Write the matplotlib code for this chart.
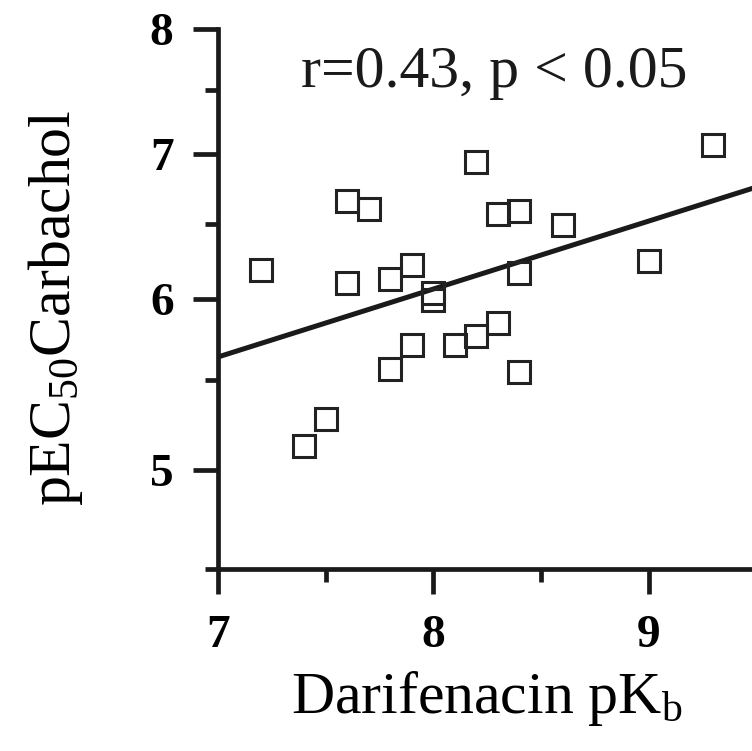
import numpy as np
import matplotlib
matplotlib.use("Agg")
import matplotlib.pyplot as plt
from matplotlib.ticker import FixedLocator, NullFormatter

# Darifenacin pKb vs pEC50 carbachol
pkb = [7.2, 7.6, 7.7, 7.6, 7.8, 7.9, 8.0, 8.0, 8.2, 8.3, 8.4, 8.6, 8.4, 9.0, 9.3,
       7.9, 7.8, 8.1, 8.2, 8.3, 8.4, 7.5, 7.4]
pec50 = [6.19, 6.66, 6.60, 6.10, 6.13, 6.22, 6.04, 5.99, 6.94, 6.57, 6.59, 6.49, 6.17, 6.25, 7.07,
         5.71, 5.57, 5.71, 5.77, 5.85, 5.55, 5.28, 5.13]

# regression line, log10(y) = a + b*x
fit_a = 0.5311
fit_b = 0.03145

x_ticks = [7, 8, 9]
x_minor = [7.5, 8.5]
y_ticks = [5, 6, 7, 8]
y_minor = [4.5, 5.5, 6.5, 7.5]

plt.rcParams['font.family'] = 'Liberation Serif'
plt.rcParams['mathtext.fontset'] = 'custom'
plt.rcParams['mathtext.rm'] = 'Liberation Serif'
plt.rcParams['mathtext.it'] = 'Liberation Serif:italic'

ink = '#1a1a1a'

fig = plt.figure(figsize=(7.52, 7.51), dpi=100)
ax = fig.add_axes([0.2899, 0.2427, 1.0 - 0.2899, 0.9614 - 0.2427])

ax.set_yscale('log')
ax.set_xlim(7, 9.48)
ax.set_ylim(4.5, 8)

xs = np.linspace(7, 9.48, 50)
ax.plot(xs, 10 ** (fit_a + fit_b * xs), color=ink, lw=3.6, zorder=2)

ax.plot(pkb, pec50, linestyle='none', marker='s', markersize=16.5,
        markerfacecolor='none', markeredgecolor='#222222', markeredgewidth=2.2,
        zorder=3, clip_on=False)

for side in ['top', 'right']:
    ax.spines[side].set_visible(False)
for side in ['left', 'bottom']:
    ax.spines[side].set_linewidth(3.4)
    ax.spines[side].set_color(ink)

ax.xaxis.set_major_locator(FixedLocator(x_ticks))
ax.xaxis.set_minor_locator(FixedLocator(x_minor))
ax.yaxis.set_major_locator(FixedLocator(y_ticks))
ax.yaxis.set_minor_locator(FixedLocator(y_minor))
ax.yaxis.set_minor_formatter(NullFormatter())
ax.set_xticklabels([str(t) for t in x_ticks])
ax.set_yticklabels([str(t) for t in y_ticks])

ax.tick_params(which='major', direction='out', length=18, width=3.4, color=ink,
               labelsize=34)
ax.tick_params(axis='x', which='major', pad=15)
ax.tick_params(axis='y', which='major', pad=14)
ax.tick_params(which='minor', direction='out', length=9.5, width=3.4, color=ink)
for lab in ax.get_xticklabels() + ax.get_yticklabels():
    lab.set_fontweight('bold')

ax.set_xlabel('Darifenacin pK$_\\mathrm{b}$', fontsize=43)
ax.set_ylabel('pEC$_{50}$Carbachol', fontsize=43)
ax.xaxis.set_label_coords(0.504, -0.186)
ax.yaxis.set_label_coords(-0.249, 0.484)

ax.text(7.384, 7.52, 'r=0.43, p < 0.05', fontsize=43, color=ink, va='baseline')

fig.savefig('out.png', dpi=100)
